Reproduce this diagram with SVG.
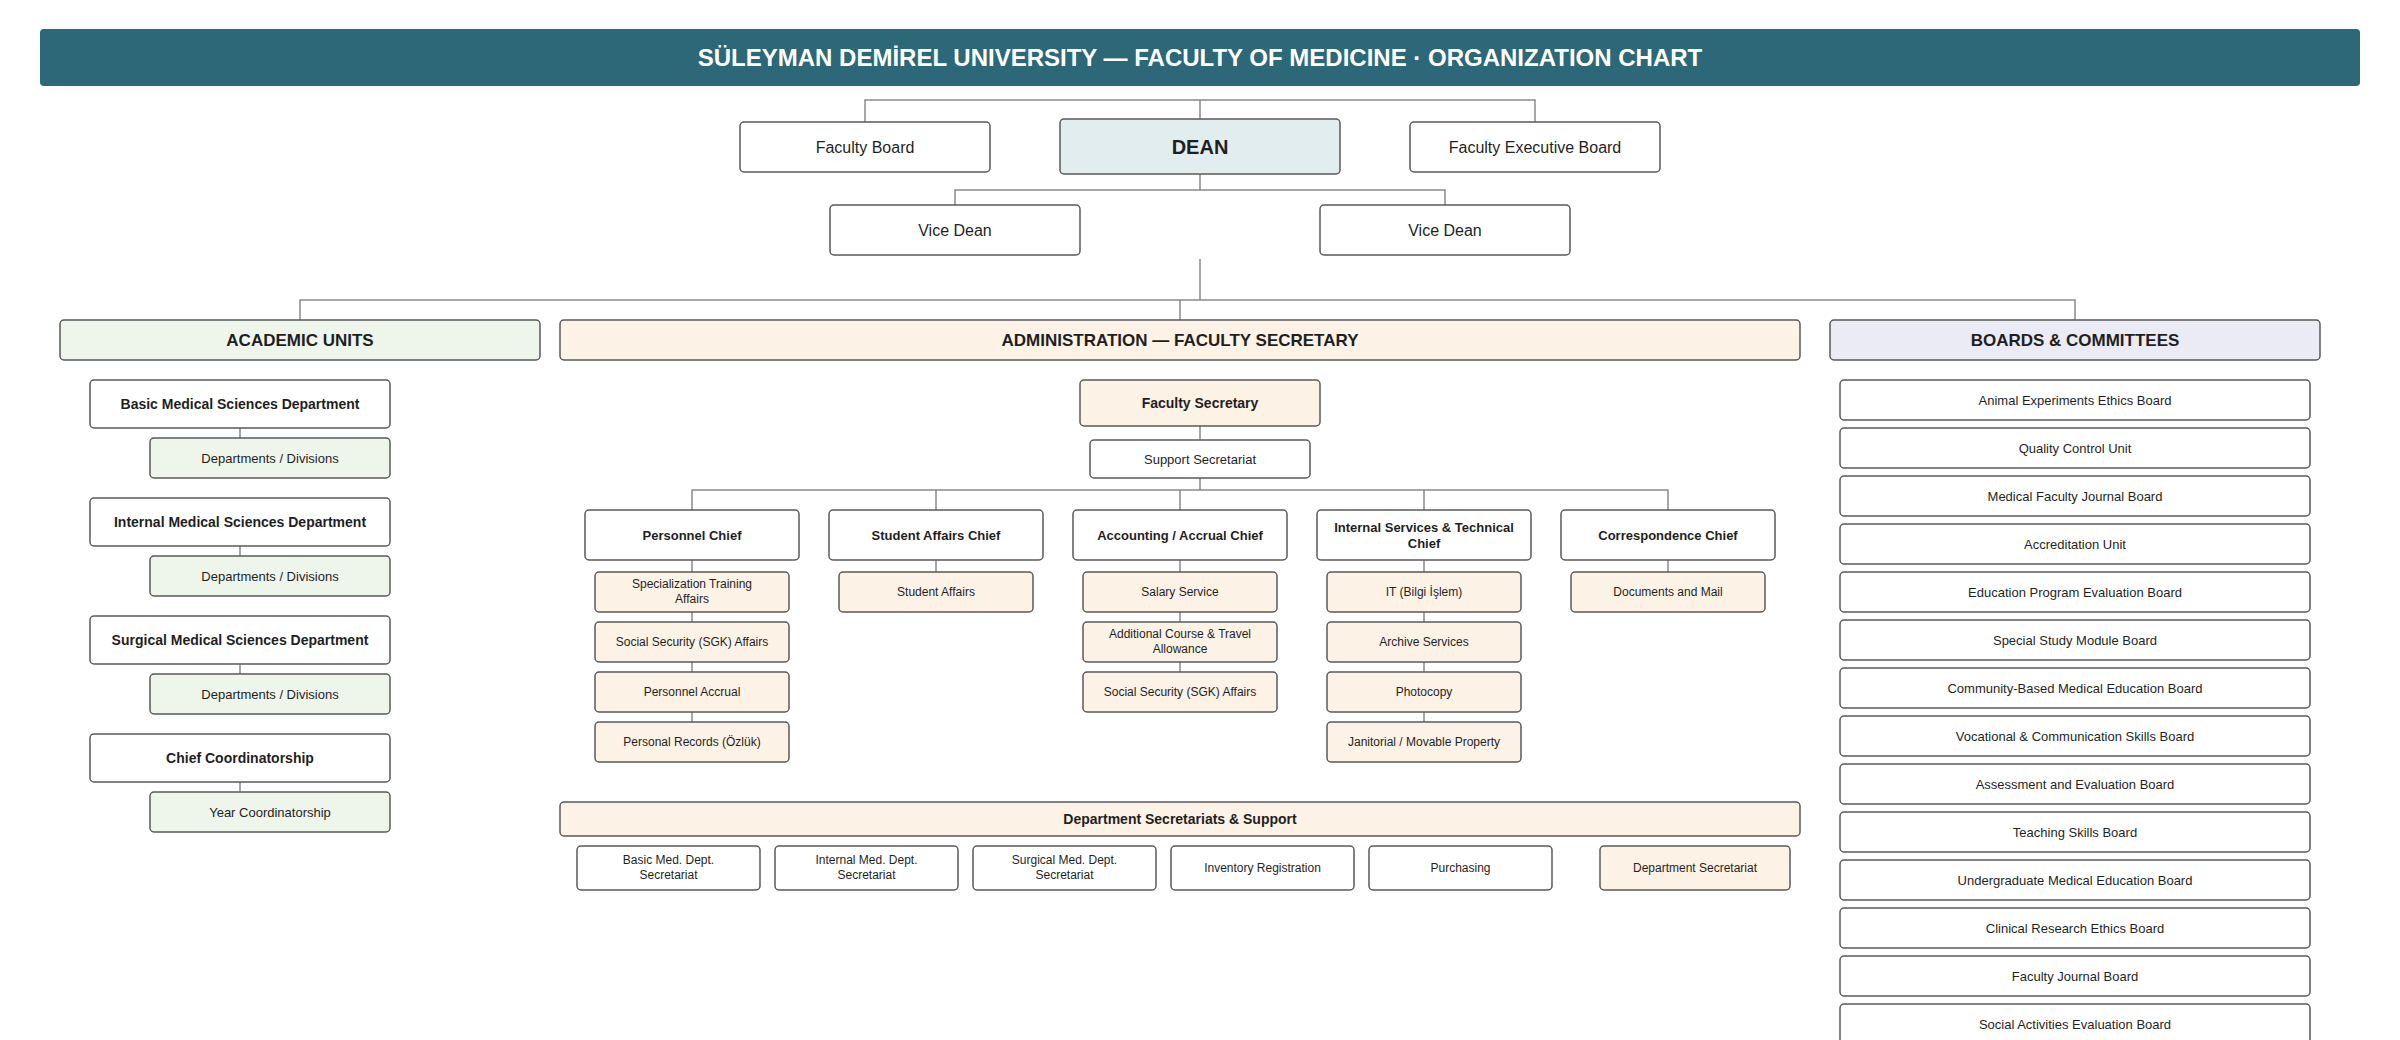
<svg xmlns="http://www.w3.org/2000/svg" width="2400" height="1040" viewBox="0 0 2400 1040">
<style>
text{font-family:"Liberation Sans",Arial,sans-serif;fill:#1f1f1f;text-anchor:middle}
.box{stroke:#595959;stroke-width:1.5}
.w{fill:#ffffff}
.g{fill:#eef5ea}
.p{fill:#fdf2e6}
.v{fill:#ebebf6}
.conn path{fill:none;stroke:#8a8a8a;stroke-width:1.5}
.t22{font-size:24px;font-weight:bold;fill:#ffffff}
.b20{font-size:20px;font-weight:bold}
.r16{font-size:16px}
.b16{font-size:17px;font-weight:bold}
.b14{font-size:14px;font-weight:bold}
.b13{font-size:13px;font-weight:bold}
.r13{font-size:13px}
.r12{font-size:12px}
</style>
<rect width="2400" height="1040" fill="#ffffff"/>
<g id="title">
<rect x="40" y="29" width="2320" height="57" rx="4" fill="#2c6877"/>
<text class="t22" x="1200" y="66">SÜLEYMAN DEMİREL UNIVERSITY — FACULTY OF MEDICINE · ORGANIZATION CHART</text>
</g>
<g id="connectors" class="conn">
<path d="M865,122V100H1535V122"/>
<path d="M1200,100V119"/>
<path d="M1200,174V190"/>
<path d="M955,205V190H1445V205"/>
<path d="M1200,259V300"/>
<path d="M300,320V300H2075V320"/>
<path d="M1180,300V320"/>
<path d="M240,428V438"/><path d="M240,546V556"/><path d="M240,664V674"/><path d="M240,782V792"/>
<path d="M1200,426V440"/>
<path d="M1200,478V490"/>
<path d="M692,510V490H1668V510"/>
<path d="M936,490V510"/><path d="M1180,490V510"/><path d="M1424,490V510"/>
<path d="M692,560V572"/><path d="M692,612V622"/><path d="M692,662V672"/><path d="M692,712V722"/>
<path d="M936,560V572"/>
<path d="M1180,560V572"/><path d="M1180,612V622"/><path d="M1180,662V672"/>
<path d="M1424,560V572"/><path d="M1424,612V622"/><path d="M1424,662V672"/><path d="M1424,712V722"/>
<path d="M1668,560V572"/>
</g>
<g id="faculty-board"><rect class="box w" x="740" y="122" width="250" height="50" rx="4"/><text class="r16" x="865" y="153">Faculty Board</text></g>
<g id="dean"><rect class="box" fill="#e2edf0" x="1060" y="119" width="280" height="55" rx="4"/><text class="b20" x="1200" y="154">DEAN</text></g>
<g id="faculty-executive-board"><rect class="box w" x="1410" y="122" width="250" height="50" rx="4"/><text class="r16" x="1535" y="153">Faculty Executive Board</text></g>
<g id="vice-dean-1"><rect class="box w" x="830" y="205" width="250" height="50" rx="4"/><text class="r16" x="955" y="236">Vice Dean</text></g>
<g id="vice-dean-2"><rect class="box w" x="1320" y="205" width="250" height="50" rx="4"/><text class="r16" x="1445" y="236">Vice Dean</text></g>

<g id="academic-units"><rect class="box g" x="60" y="320" width="480" height="40" rx="4"/><text class="b16" x="300" y="346">ACADEMIC UNITS</text></g>
<g id="administration"><rect class="box p" x="560" y="320" width="1240" height="40" rx="4"/><text class="b16" x="1180" y="346">ADMINISTRATION — FACULTY SECRETARY</text></g>
<g id="boards-committees"><rect class="box v" x="1830" y="320" width="490" height="40" rx="4"/><text class="b16" x="2075" y="346">BOARDS &amp; COMMITTEES</text></g>

<g id="basic-dept"><rect class="box w" x="90" y="380" width="300" height="48" rx="4"/><text class="b14" x="240" y="409">Basic Medical Sciences Department</text></g>
<g id="basic-divs"><rect class="box g" x="150" y="438" width="240" height="40" rx="4"/><text class="r13" x="270" y="463">Departments / Divisions</text></g>
<g id="internal-dept"><rect class="box w" x="90" y="498" width="300" height="48" rx="4"/><text class="b14" x="240" y="527">Internal Medical Sciences Department</text></g>
<g id="internal-divs"><rect class="box g" x="150" y="556" width="240" height="40" rx="4"/><text class="r13" x="270" y="581">Departments / Divisions</text></g>
<g id="surgical-dept"><rect class="box w" x="90" y="616" width="300" height="48" rx="4"/><text class="b14" x="240" y="645">Surgical Medical Sciences Department</text></g>
<g id="surgical-divs"><rect class="box g" x="150" y="674" width="240" height="40" rx="4"/><text class="r13" x="270" y="699">Departments / Divisions</text></g>
<g id="chief-coord"><rect class="box w" x="90" y="734" width="300" height="48" rx="4"/><text class="b14" x="240" y="763">Chief Coordinatorship</text></g>
<g id="year-coord"><rect class="box g" x="150" y="792" width="240" height="40" rx="4"/><text class="r13" x="270" y="817">Year Coordinatorship</text></g>

<g id="faculty-secretary"><rect class="box p" x="1080" y="380" width="240" height="46" rx="4"/><text class="b14" x="1200" y="408">Faculty Secretary</text></g>
<g id="support-secretariat"><rect class="box w" x="1090" y="440" width="220" height="38" rx="4"/><text class="r13" x="1200" y="464">Support Secretariat</text></g>

<g id="personnel-chief"><rect class="box w" x="585" y="510" width="214" height="50" rx="4"/><text class="b13" x="692" y="540">Personnel Chief</text></g>
<g id="student-chief"><rect class="box w" x="829" y="510" width="214" height="50" rx="4"/><text class="b13" x="936" y="540">Student Affairs Chief</text></g>
<g id="accounting-chief"><rect class="box w" x="1073" y="510" width="214" height="50" rx="4"/><text class="b13" x="1180" y="540">Accounting / Accrual Chief</text></g>
<g id="internal-services-chief"><rect class="box w" x="1317" y="510" width="214" height="50" rx="4"/><text class="b13" x="1424" y="532">Internal Services &amp; Technical</text><text class="b13" x="1424" y="548">Chief</text></g>
<g id="correspondence-chief"><rect class="box w" x="1561" y="510" width="214" height="50" rx="4"/><text class="b13" x="1668" y="540">Correspondence Chief</text></g>

<g id="spec-training"><rect class="box p" x="595" y="572" width="194" height="40" rx="4"/><text class="r12" x="692" y="588">Specialization Training</text><text class="r12" x="692" y="602.5">Affairs</text></g>
<g id="sgk-1"><rect class="box p" x="595" y="622" width="194" height="40" rx="4"/><text class="r12" x="692" y="646.3">Social Security (SGK) Affairs</text></g>
<g id="personnel-accrual"><rect class="box p" x="595" y="672" width="194" height="40" rx="4"/><text class="r12" x="692" y="696.3">Personnel Accrual</text></g>
<g id="personal-records"><rect class="box p" x="595" y="722" width="194" height="40" rx="4"/><text class="r12" x="692" y="746.3">Personal Records (Özlük)</text></g>

<g id="student-affairs"><rect class="box p" x="839" y="572" width="194" height="40" rx="4"/><text class="r12" x="936" y="596.3">Student Affairs</text></g>

<g id="salary-service"><rect class="box p" x="1083" y="572" width="194" height="40" rx="4"/><text class="r12" x="1180" y="596.3">Salary Service</text></g>
<g id="additional-course"><rect class="box p" x="1083" y="622" width="194" height="40" rx="4"/><text class="r12" x="1180" y="638">Additional Course &amp; Travel</text><text class="r12" x="1180" y="652.5">Allowance</text></g>
<g id="sgk-2"><rect class="box p" x="1083" y="672" width="194" height="40" rx="4"/><text class="r12" x="1180" y="696.3">Social Security (SGK) Affairs</text></g>

<g id="it"><rect class="box p" x="1327" y="572" width="194" height="40" rx="4"/><text class="r12" x="1424" y="596.3">IT (Bilgi İşlem)</text></g>
<g id="archive"><rect class="box p" x="1327" y="622" width="194" height="40" rx="4"/><text class="r12" x="1424" y="646.3">Archive Services</text></g>
<g id="photocopy"><rect class="box p" x="1327" y="672" width="194" height="40" rx="4"/><text class="r12" x="1424" y="696.3">Photocopy</text></g>
<g id="janitorial"><rect class="box p" x="1327" y="722" width="194" height="40" rx="4"/><text class="r12" x="1424" y="746.3">Janitorial / Movable Property</text></g>

<g id="documents-mail"><rect class="box p" x="1571" y="572" width="194" height="40" rx="4"/><text class="r12" x="1668" y="596.3">Documents and Mail</text></g>

<g id="dept-secretariats-support"><rect class="box p" x="560" y="802" width="1240" height="34" rx="4"/><text class="b14" x="1180" y="824">Department Secretariats &amp; Support</text></g>
<g id="basic-sec"><rect class="box w" x="577" y="846" width="183" height="44" rx="4"/><text class="r12" x="668.5" y="864">Basic Med. Dept.</text><text class="r12" x="668.5" y="878.5">Secretariat</text></g>
<g id="internal-sec"><rect class="box w" x="775" y="846" width="183" height="44" rx="4"/><text class="r12" x="866.5" y="864">Internal Med. Dept.</text><text class="r12" x="866.5" y="878.5">Secretariat</text></g>
<g id="surgical-sec"><rect class="box w" x="973" y="846" width="183" height="44" rx="4"/><text class="r12" x="1064.5" y="864">Surgical Med. Dept.</text><text class="r12" x="1064.5" y="878.5">Secretariat</text></g>
<g id="inventory"><rect class="box w" x="1171" y="846" width="183" height="44" rx="4"/><text class="r12" x="1262.5" y="872.3">Inventory Registration</text></g>
<g id="purchasing"><rect class="box w" x="1369" y="846" width="183" height="44" rx="4"/><text class="r12" x="1460.5" y="872.3">Purchasing</text></g>
<g id="dept-secretariat"><rect class="box p" x="1600" y="846" width="190" height="44" rx="4"/><text class="r12" x="1695" y="872.3">Department Secretariat</text></g>

<g id="board-1"><rect class="box w" x="1840" y="380" width="470" height="40" rx="4"/><text class="r13" x="2075" y="404.7">Animal Experiments Ethics Board</text></g>
<g id="board-2"><rect class="box w" x="1840" y="428" width="470" height="40" rx="4"/><text class="r13" x="2075" y="452.7">Quality Control Unit</text></g>
<g id="board-3"><rect class="box w" x="1840" y="476" width="470" height="40" rx="4"/><text class="r13" x="2075" y="500.7">Medical Faculty Journal Board</text></g>
<g id="board-4"><rect class="box w" x="1840" y="524" width="470" height="40" rx="4"/><text class="r13" x="2075" y="548.7">Accreditation Unit</text></g>
<g id="board-5"><rect class="box w" x="1840" y="572" width="470" height="40" rx="4"/><text class="r13" x="2075" y="596.7">Education Program Evaluation Board</text></g>
<g id="board-6"><rect class="box w" x="1840" y="620" width="470" height="40" rx="4"/><text class="r13" x="2075" y="644.7">Special Study Module Board</text></g>
<g id="board-7"><rect class="box w" x="1840" y="668" width="470" height="40" rx="4"/><text class="r13" x="2075" y="692.7">Community-Based Medical Education Board</text></g>
<g id="board-8"><rect class="box w" x="1840" y="716" width="470" height="40" rx="4"/><text class="r13" x="2075" y="740.7">Vocational &amp; Communication Skills Board</text></g>
<g id="board-9"><rect class="box w" x="1840" y="764" width="470" height="40" rx="4"/><text class="r13" x="2075" y="788.7">Assessment and Evaluation Board</text></g>
<g id="board-10"><rect class="box w" x="1840" y="812" width="470" height="40" rx="4"/><text class="r13" x="2075" y="836.7">Teaching Skills Board</text></g>
<g id="board-11"><rect class="box w" x="1840" y="860" width="470" height="40" rx="4"/><text class="r13" x="2075" y="884.7">Undergraduate Medical Education Board</text></g>
<g id="board-12"><rect class="box w" x="1840" y="908" width="470" height="40" rx="4"/><text class="r13" x="2075" y="932.7">Clinical Research Ethics Board</text></g>
<g id="board-13"><rect class="box w" x="1840" y="956" width="470" height="40" rx="4"/><text class="r13" x="2075" y="980.7">Faculty Journal Board</text></g>
<g id="board-14"><rect class="box w" x="1840" y="1004" width="470" height="40" rx="4"/><text class="r13" x="2075" y="1028.7">Social Activities Evaluation Board</text></g>
</svg>
